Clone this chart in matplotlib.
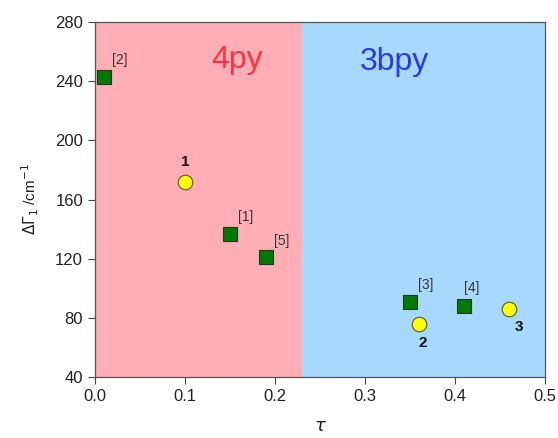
import matplotlib
matplotlib.use("Agg")
import matplotlib.pyplot as plt

plt.rcParams['font.family'] = ['Liberation Sans', 'DejaVu Sans']

# Literature complexes (green squares)
ref_tau = [0.01, 0.15, 0.19, 0.35, 0.41]
ref_dg = [243, 137, 121, 91, 88]
ref_labels = ["[2]", "[1]", "[5]", "[3]", "[4]"]

# This work (yellow circles)
new_tau = [0.10, 0.36, 0.46]
new_dg = [172, 76, 86]
new_labels = ["1", "2", "3"]

boundary = 0.23

fig = plt.figure(figsize=(5.58, 4.38), dpi=100)
ax = fig.add_axes([0.170, 0.139, 0.807, 0.811])

ax.axvspan(0, boundary, color="#FFAEB5", zorder=0, lw=0)
ax.axvspan(boundary, 0.5, color="#A7D9FF", zorder=0, lw=0)

ax.scatter(ref_tau, ref_dg, marker="s", s=95, c="#007A00", edgecolors="#1E3A1E",
           linewidths=0.8, zorder=3)
ax.scatter(new_tau, new_dg, marker="o", s=110, c="#FFFF00", edgecolors="#555533",
           linewidths=0.8, zorder=3)

ref_off = [(6, 7), (6, 7), (6, 7), (6, 7), (0, 8)]
for x, y, t, (dx, dy) in zip(ref_tau, ref_dg, ref_labels, ref_off):
    ax.annotate(t, (x, y), xytext=(dx, dy), textcoords="offset points",
                fontsize=10, color="#333333", ha="left", va="bottom")

new_off = [(0, 9, "center", "bottom"), (3, -9, "center", "top"), (7, -8, "center", "top")]
for x, y, t, (dx, dy, ha, va) in zip(new_tau, new_dg, new_labels, new_off):
    ax.annotate(t, (x, y), xytext=(dx, dy), textcoords="offset points",
                fontsize=11, fontweight="bold", color="#111111", ha=ha, va=va)

ax.text(0.158, 254, "4py", fontsize=23, color="#FF3344", ha="center", va="center")
ax.text(0.333, 253, "3bpy", fontsize=23, color="#2A3AE6", ha="center", va="center")

ax.set_xlim(0, 0.5)
ax.set_ylim(40, 280)
ax.set_xticks([0.0, 0.1, 0.2, 0.3, 0.4, 0.5])
ax.set_xticklabels(["0.0", "0.1", "0.2", "0.3", "0.4", "0.5"])
ax.set_yticks([40, 80, 120, 160, 200, 240, 280])
ax.tick_params(labelsize=12, direction="out", length=5, color="#444444", labelcolor="#222222")
for sp in ax.spines.values():
    sp.set_color("#555555")
    sp.set_linewidth(0.9)

ax.set_xlabel(r"$\tau$", fontsize=13, color="#222222", labelpad=10)
ax.set_ylabel(r"$\Delta\mathit{\Gamma}_1$ /cm$^{-1}$", fontsize=11, color="#222222", labelpad=10)

fig.savefig("out.png", dpi=100)
